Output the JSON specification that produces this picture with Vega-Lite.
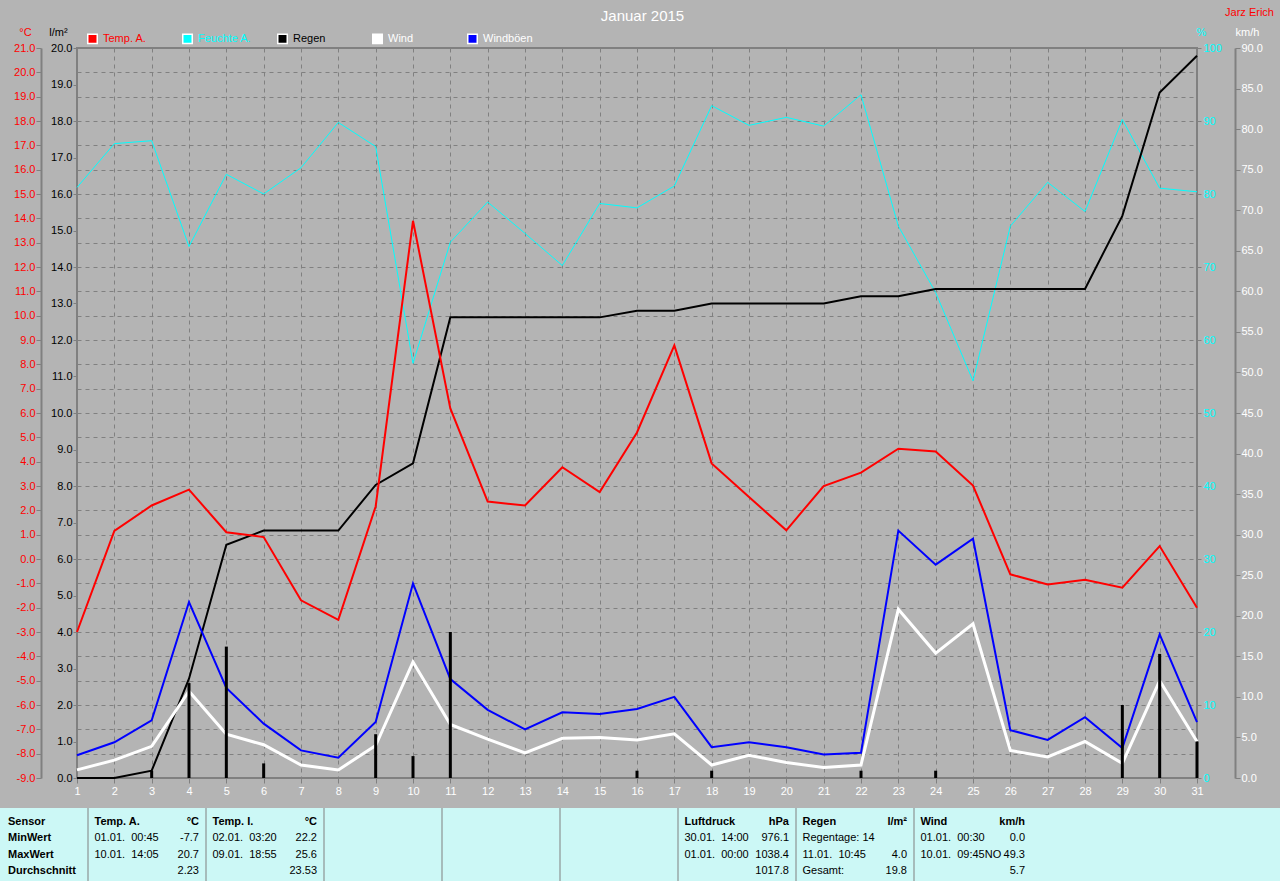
{
  "$schema": "https://vega.github.io/schema/vega-lite/v6.json",
  "width": 1120,
  "height": 730,
  "autosize": {"type": "none"},
  "padding": {"left": 77, "top": 48, "right": 83, "bottom": 103},
  "background": "#b4b4b4",
  "config": {
    "font": "Liberation Sans",
    "view": {"stroke": "#808080", "strokeWidth": 2},
    "axis": {"labelFont": "Liberation Sans", "titleFont": "Liberation Sans", "labelFontSize": 11, "titleFontSize": 11, "titleFontWeight": "normal", "labelOverlap": false, "labelFlush": false},
    "text": {"font": "Liberation Sans", "fontSize": 11}
  },
  "datasets": {
    "days": [
      {"day": 1, "temp": -3.0, "humid": 80.9, "rcum": 0.0, "rain": 0.0, "wind": 1.0, "gust": 2.8},
      {"day": 2, "temp": 1.15, "humid": 86.9, "rcum": 0.0, "rain": 0.0, "wind": 2.2, "gust": 4.4},
      {"day": 3, "temp": 2.2, "humid": 87.3, "rcum": 0.2, "rain": 0.2, "wind": 3.9, "gust": 7.1},
      {"day": 4, "temp": 2.85, "humid": 72.8, "rcum": 2.72, "rain": 2.6, "wind": 10.7, "gust": 21.7},
      {"day": 5, "temp": 1.1, "humid": 82.7, "rcum": 6.39, "rain": 3.6, "wind": 5.4, "gust": 11.1},
      {"day": 6, "temp": 0.9, "humid": 80.0, "rcum": 6.78, "rain": 0.4, "wind": 4.1, "gust": 6.7},
      {"day": 7, "temp": -1.7, "humid": 83.6, "rcum": 6.78, "rain": 0.0, "wind": 1.6, "gust": 3.4},
      {"day": 8, "temp": -2.5, "humid": 89.8, "rcum": 6.78, "rain": 0.0, "wind": 1.0, "gust": 2.5},
      {"day": 9, "temp": 2.16, "humid": 86.5, "rcum": 8.03, "rain": 1.2, "wind": 4.0, "gust": 6.9},
      {"day": 10, "temp": 13.9, "humid": 56.8, "rcum": 8.62, "rain": 0.6, "wind": 14.3, "gust": 24.0},
      {"day": 11, "temp": 6.19, "humid": 73.4, "rcum": 12.62, "rain": 4.0, "wind": 6.6, "gust": 12.2},
      {"day": 12, "temp": 2.36, "humid": 78.9, "rcum": 12.62, "rain": 0.0, "wind": 4.8, "gust": 8.4},
      {"day": 13, "temp": 2.2, "humid": 74.6, "rcum": 12.62, "rain": 0.0, "wind": 3.1, "gust": 6.0},
      {"day": 14, "temp": 3.77, "humid": 70.2, "rcum": 12.62, "rain": 0.0, "wind": 4.9, "gust": 8.1},
      {"day": 15, "temp": 2.75, "humid": 78.7, "rcum": 12.62, "rain": 0.0, "wind": 5.0, "gust": 7.9},
      {"day": 16, "temp": 5.2, "humid": 78.1, "rcum": 12.8, "rain": 0.2, "wind": 4.7, "gust": 8.5},
      {"day": 17, "temp": 8.78, "humid": 81.1, "rcum": 12.8, "rain": 0.0, "wind": 5.45, "gust": 10.0},
      {"day": 18, "temp": 3.93, "humid": 92.1, "rcum": 13.0, "rain": 0.2, "wind": 1.6, "gust": 3.8},
      {"day": 19, "temp": 2.55, "humid": 89.4, "rcum": 13.0, "rain": 0.0, "wind": 2.8, "gust": 4.4},
      {"day": 20, "temp": 1.18, "humid": 90.5, "rcum": 13.0, "rain": 0.0, "wind": 1.9, "gust": 3.8},
      {"day": 21, "temp": 3.0, "humid": 89.3, "rcum": 13.0, "rain": 0.0, "wind": 1.3, "gust": 2.9},
      {"day": 22, "temp": 3.55, "humid": 93.6, "rcum": 13.2, "rain": 0.2, "wind": 1.6, "gust": 3.1},
      {"day": 23, "temp": 4.53, "humid": 75.6, "rcum": 13.2, "rain": 0.0, "wind": 20.8, "gust": 30.5},
      {"day": 24, "temp": 4.42, "humid": 66.5, "rcum": 13.4, "rain": 0.2, "wind": 15.4, "gust": 26.3},
      {"day": 25, "temp": 3.02, "humid": 54.4, "rcum": 13.4, "rain": 0.0, "wind": 19.0, "gust": 29.5},
      {"day": 26, "temp": -0.63, "humid": 75.6, "rcum": 13.4, "rain": 0.0, "wind": 3.4, "gust": 5.9},
      {"day": 27, "temp": -1.05, "humid": 81.6, "rcum": 13.4, "rain": 0.0, "wind": 2.6, "gust": 4.7},
      {"day": 28, "temp": -0.85, "humid": 77.6, "rcum": 13.4, "rain": 0.0, "wind": 4.5, "gust": 7.5},
      {"day": 29, "temp": -1.18, "humid": 90.2, "rcum": 15.4, "rain": 2.0, "wind": 1.8, "gust": 3.7},
      {"day": 30, "temp": 0.53, "humid": 80.8, "rcum": 18.78, "rain": 3.4, "wind": 12.0, "gust": 17.7},
      {"day": 31, "temp": -2.0, "humid": 80.3, "rcum": 19.79, "rain": 1.0, "wind": 4.5, "gust": 6.9}
    ],
    "cols": [
      {"col": "Sensor"}, {"col": "Temp. A."}, {"col": "Temp. I."}, {"col": "leer1"}, {"col": "leer2"}, {"col": "leer3"},
      {"col": "Luftdruck"}, {"col": "Regen"}, {"col": "Wind"}, {"col": "leer4"}, {"col": "leer5"}, {"col": "leer6"}
    ],
    "table": [
      {"col": "Sensor", "row": 0, "left": "Sensor", "right": ""},
      {"col": "Sensor", "row": 1, "left": "MinWert", "right": ""},
      {"col": "Sensor", "row": 2, "left": "MaxWert", "right": ""},
      {"col": "Sensor", "row": 3, "left": "Durchschnitt", "right": ""},
      {"col": "Temp. A.", "row": 0, "left": "Temp. A.", "right": "°C"},
      {"col": "Temp. A.", "row": 1, "left": "01.01. \u00a000:45", "right": "-7.7"},
      {"col": "Temp. A.", "row": 2, "left": "10.01. \u00a014:05", "right": "20.7"},
      {"col": "Temp. A.", "row": 3, "left": "", "right": "2.23"},
      {"col": "Temp. I.", "row": 0, "left": "Temp. I.", "right": "°C"},
      {"col": "Temp. I.", "row": 1, "left": "02.01. \u00a003:20", "right": "22.2"},
      {"col": "Temp. I.", "row": 2, "left": "09.01. \u00a018:55", "right": "25.6"},
      {"col": "Temp. I.", "row": 3, "left": "", "right": "23.53"},
      {"col": "Luftdruck", "row": 0, "left": "Luftdruck", "right": "hPa"},
      {"col": "Luftdruck", "row": 1, "left": "30.01. \u00a014:00", "right": "976.1"},
      {"col": "Luftdruck", "row": 2, "left": "01.01. \u00a000:00", "right": "1038.4"},
      {"col": "Luftdruck", "row": 3, "left": "", "right": "1017.8"},
      {"col": "Regen", "row": 0, "left": "Regen", "right": "l/m²"},
      {"col": "Regen", "row": 1, "left": "Regentage: 14", "right": ""},
      {"col": "Regen", "row": 2, "left": "11.01. \u00a010:45", "right": "4.0"},
      {"col": "Regen", "row": 3, "left": "Gesamt:", "right": "19.8"},
      {"col": "Wind", "row": 0, "left": "Wind", "right": "km/h"},
      {"col": "Wind", "row": 1, "left": "01.01. \u00a000:30", "right": "0.0"},
      {"col": "Wind", "row": 2, "left": "10.01. \u00a009:45NO", "right": "49.3"},
      {"col": "Wind", "row": 3, "left": "", "right": "5.7"}
    ]
  },
  "resolve": {"scale": {"x": "independent", "y": "independent"}},
  "layer": [
    {
      "data": {"name": "days"},
      "mark": {"type": "line", "color": "#00ffff", "strokeWidth": 1},
      "encoding": {
        "x": {"field": "day", "type": "quantitative", "scale": {"domain": [1, 31], "nice": false, "zero": false},
          "axis": {"orient": "top", "domain": false, "ticks": false, "labels": false, "grid": false, "title": "Jarz Erich", "titleColor": "#ff0000", "titleFontSize": 11, "titleX": 1172, "titleY": -36, "titleAlign": "center", "titleBaseline": "middle", "titleAngle": 0}},
        "y": {"field": "humid", "type": "quantitative", "scale": {"domain": [0, 100], "nice": false, "zero": false},
          "axis": {"orient": "right", "offset": 0, "values": [0, 10, 20, 30, 40, 50, 60, 70, 80, 90, 100], "format": "d", "labelColor": "#00ffff", "domain": false, "tickColor": "#808080", "tickSize": 4, "labelPadding": 2, "grid": false, "title": "%", "titleColor": "#00ffff", "titleX": 4, "titleY": -16, "titleAngle": 0, "titleAlign": "center", "titleBaseline": "middle"}}
      }
    },
    {
      "data": {"name": "days"},
      "mark": {"type": "line", "color": "#000000", "strokeWidth": 2},
      "encoding": {
        "x": {"field": "day", "type": "quantitative", "scale": {"domain": [1, 31], "nice": false, "zero": false},
          "axis": {"orient": "top", "domain": false, "ticks": false, "labels": false, "grid": false, "title": "Januar 2015", "titleColor": "#ffffff", "titleFontSize": 15, "titleX": 565, "titleY": -33, "titleAlign": "center", "titleBaseline": "middle", "titleAngle": 0}},
        "y": {"field": "rcum", "type": "quantitative", "scale": {"domain": [0, 20], "nice": false, "zero": false},
          "axis": {"orient": "left", "offset": 0, "values": [0, 1, 2, 3, 4, 5, 6, 7, 8, 9, 10, 11, 12, 13, 14, 15, 16, 17, 18, 19, 20], "format": ".1f", "labelColor": "#000000", "domain": false, "tickColor": "#808080", "tickSize": 4, "labelPadding": 1, "grid": false, "title": "l/m²", "titleColor": "#000000", "titleX": -19, "titleY": -16, "titleAngle": 0, "titleAlign": "center", "titleBaseline": "middle"}}
      }
    },
    {
      "data": {"name": "days"},
      "mark": {"type": "line", "color": "#ff0000", "strokeWidth": 2},
      "encoding": {
        "x": {"field": "day", "type": "quantitative", "scale": {"domain": [1, 31], "nice": false, "zero": false},
          "axis": {"orient": "bottom", "values": [1, 2, 3, 4, 5, 6, 7, 8, 9, 10, 11, 12, 13, 14, 15, 16, 17, 18, 19, 20, 21, 22, 23, 24, 25, 26, 27, 28, 29, 30, 31], "format": "d", "labelColor": "#ffffff", "domain": false, "tickColor": "#808080", "tickSize": 5, "labelPadding": 2, "grid": true, "gridColor": "#808080", "gridDash": [4, 4], "gridWidth": 1, "title": null}},
        "y": {"field": "temp", "type": "quantitative", "scale": {"domain": [-9, 21], "nice": false, "zero": false},
          "axis": {"orient": "left", "offset": 36, "values": [-9, -8, -7, -6, -5, -4, -3, -2, -1, 0, 1, 2, 3, 4, 5, 6, 7, 8, 9, 10, 11, 12, 13, 14, 15, 16, 17, 18, 19, 20, 21], "labelExpr": "(datum.value < 0 ? '-' : '') + format(abs(datum.value), '.1f')", "labelColor": "#ff0000", "domain": true, "domainColor": "#808080", "domainWidth": 2, "tickColor": "#808080", "tickSize": 5, "labelPadding": 1, "grid": true, "gridColor": "#808080", "gridDash": [4, 4], "gridWidth": 1, "title": "°C", "titleColor": "#ff0000", "titleX": -16, "titleY": -16, "titleAngle": 0, "titleAlign": "center", "titleBaseline": "middle"}}
      }
    },
    {
      "data": {"name": "days"},
      "mark": {"type": "line", "color": "#ffffff", "strokeWidth": 3},
      "encoding": {
        "x": {"field": "day", "type": "quantitative", "scale": {"domain": [1, 31], "nice": false, "zero": false}, "axis": null},
        "y": {"field": "wind", "type": "quantitative", "scale": {"domain": [0, 90], "nice": false, "zero": false},
          "axis": {"orient": "right", "offset": 38, "values": [0, 5, 10, 15, 20, 25, 30, 35, 40, 45, 50, 55, 60, 65, 70, 75, 80, 85, 90], "format": ".1f", "labelColor": "#ffffff", "domain": true, "domainColor": "#808080", "domainWidth": 2, "tickColor": "#808080", "tickSize": 5, "labelPadding": 1, "grid": false, "title": "km/h", "titleColor": "#ffffff", "titleX": 12, "titleY": -16, "titleAngle": 0, "titleAlign": "center", "titleBaseline": "middle"}}
      }
    },
    {
      "data": {"name": "days"},
      "mark": {"type": "line", "color": "#0000ff", "strokeWidth": 2},
      "encoding": {
        "x": {"field": "day", "type": "quantitative", "scale": {"domain": [1, 31], "nice": false, "zero": false}, "axis": null},
        "y": {"field": "gust", "type": "quantitative", "scale": {"domain": [0, 90], "nice": false, "zero": false}, "axis": null}
      }
    },
    {
      "data": {"name": "days"},
      "transform": [{"filter": "datum.rain > 0"}],
      "mark": {"type": "bar", "size": 3},
      "encoding": {
        "x": {"field": "day", "type": "quantitative", "scale": {"domain": [1, 31], "nice": false, "zero": false, "padding": 0}, "axis": null},
        "y": {"field": "rain", "type": "quantitative", "scale": {"domain": [0, 20], "nice": false, "zero": true}, "axis": null},
        "color": {"datum": "Regen", "type": "nominal",
          "scale": {"domain": ["Temp. A.", "Feuchte A.", "Regen", "Wind", "Windböen"], "range": ["#ff0000", "#00ffff", "#000000", "#ffffff", "#0000ff"]},
          "legend": {"orient": "none", "legendX": 10, "legendY": -15, "direction": "horizontal", "columns": 5, "title": null, "padding": 0,
            "symbolType": "square", "symbolSize": 90, "symbolStrokeColor": "#ffffff", "symbolStrokeWidth": 1.5, "symbolOpacity": 1,
            "labelFont": "Liberation Sans", "labelFontSize": 11, "labelOffset": 5, "columnPadding": 22, "gridAlign": "all",
            "encode": {
              "labels": {"update": {"fill": {"signal": "datum.label === 'Temp. A.' ? '#ff0000' : datum.label === 'Feuchte A.' ? '#00ffff' : datum.label === 'Regen' ? '#000000' : '#ffffff'"}}},
              "symbols": {"update": {"fill": {"scale": "color", "field": "value"}, "stroke": {"value": "#ffffff"}, "strokeWidth": {"value": 1.5}}}
            }}}
      }
    },
    {
      "data": {"name": "cols"},
      "mark": {"type": "rect", "color": "#ccf8f6"},
      "encoding": {
        "x": {"field": "col", "type": "nominal", "sort": null, "scale": {"type": "band", "domain": ["Sensor", "Temp. A.", "Temp. I.", "leer1", "leer2", "leer3", "Luftdruck", "Regen", "Wind", "leer4", "leer5", "leer6"], "range": [-107, 1309], "paddingInner": 0, "paddingOuter": 0}, "axis": null},
        "y": {"datum": -0.85, "type": "quantitative", "scale": {"domain": [-0.85, 3.58], "range": [760, 833], "nice": false, "zero": false}, "axis": null},
        "y2": {"datum": 3.58}
      }
    },
    {
      "data": {"name": "cols"},
      "transform": [{"filter": "indexof(['Temp. A.', 'Temp. I.', 'leer1', 'leer2', 'leer3', 'Luftdruck', 'Regen', 'Wind'], datum.col) >= 0"}],
      "mark": {"type": "rule", "color": "#808080", "strokeWidth": 1},
      "encoding": {
        "x": {"field": "col", "type": "nominal", "sort": null, "bandPosition": 0, "scale": {"type": "band", "domain": ["Sensor", "Temp. A.", "Temp. I.", "leer1", "leer2", "leer3", "Luftdruck", "Regen", "Wind", "leer4", "leer5", "leer6"], "range": [-107, 1309], "paddingInner": 0, "paddingOuter": 0}, "axis": null},
        "y": {"datum": -0.85, "type": "quantitative", "scale": {"domain": [-0.85, 3.58], "range": [760, 833], "nice": false, "zero": false}, "axis": null},
        "y2": {"datum": 3.58}
      }
    },
    {
      "data": {"name": "table"},
      "transform": [{"filter": "datum.col === 'Sensor'"}],
      "mark": {"type": "text", "align": "left", "baseline": "middle", "fontWeight": "bold", "color": "#000000", "dx": 38},
      "encoding": {
        "x": {"field": "col", "type": "nominal", "sort": null, "bandPosition": 0, "scale": {"type": "band", "domain": ["Sensor", "Temp. A.", "Temp. I.", "leer1", "leer2", "leer3", "Luftdruck", "Regen", "Wind", "leer4", "leer5", "leer6"], "range": [-107, 1309], "paddingInner": 0, "paddingOuter": 0}, "axis": null},
        "y": {"field": "row", "type": "quantitative", "scale": {"domain": [-0.85, 3.58], "range": [760, 833], "nice": false, "zero": false}, "axis": null},
        "text": {"field": "left"}
      }
    },
    {
      "data": {"name": "table"},
      "transform": [{"filter": "datum.col !== 'Sensor' && datum.row === 0"}],
      "mark": {"type": "text", "align": "left", "baseline": "middle", "fontWeight": "bold", "color": "#000000", "dx": 6.5},
      "encoding": {
        "x": {"field": "col", "type": "nominal", "sort": null, "bandPosition": 0, "scale": {"type": "band", "domain": ["Sensor", "Temp. A.", "Temp. I.", "leer1", "leer2", "leer3", "Luftdruck", "Regen", "Wind", "leer4", "leer5", "leer6"], "range": [-107, 1309], "paddingInner": 0, "paddingOuter": 0}, "axis": null},
        "y": {"field": "row", "type": "quantitative", "scale": {"domain": [-0.85, 3.58], "range": [760, 833], "nice": false, "zero": false}, "axis": null},
        "text": {"field": "left"}
      }
    },
    {
      "data": {"name": "table"},
      "transform": [{"filter": "datum.col !== 'Sensor' && datum.row > 0"}],
      "mark": {"type": "text", "align": "left", "baseline": "middle", "fontWeight": "normal", "color": "#000000", "dx": 6.5},
      "encoding": {
        "x": {"field": "col", "type": "nominal", "sort": null, "bandPosition": 0, "scale": {"type": "band", "domain": ["Sensor", "Temp. A.", "Temp. I.", "leer1", "leer2", "leer3", "Luftdruck", "Regen", "Wind", "leer4", "leer5", "leer6"], "range": [-107, 1309], "paddingInner": 0, "paddingOuter": 0}, "axis": null},
        "y": {"field": "row", "type": "quantitative", "scale": {"domain": [-0.85, 3.58], "range": [760, 833], "nice": false, "zero": false}, "axis": null},
        "text": {"field": "left"}
      }
    },
    {
      "data": {"name": "table"},
      "transform": [{"filter": "datum.col !== 'Sensor' && datum.row === 0"}],
      "mark": {"type": "text", "align": "right", "baseline": "middle", "fontWeight": "bold", "color": "#000000", "dx": -7},
      "encoding": {
        "x": {"field": "col", "type": "nominal", "sort": null, "bandPosition": 1, "scale": {"type": "band", "domain": ["Sensor", "Temp. A.", "Temp. I.", "leer1", "leer2", "leer3", "Luftdruck", "Regen", "Wind", "leer4", "leer5", "leer6"], "range": [-107, 1309], "paddingInner": 0, "paddingOuter": 0}, "axis": null},
        "y": {"field": "row", "type": "quantitative", "scale": {"domain": [-0.85, 3.58], "range": [760, 833], "nice": false, "zero": false}, "axis": null},
        "text": {"field": "right"}
      }
    },
    {
      "data": {"name": "table"},
      "transform": [{"filter": "datum.col !== 'Sensor' && datum.row > 0"}],
      "mark": {"type": "text", "align": "right", "baseline": "middle", "fontWeight": "normal", "color": "#000000", "dx": -7},
      "encoding": {
        "x": {"field": "col", "type": "nominal", "sort": null, "bandPosition": 1, "scale": {"type": "band", "domain": ["Sensor", "Temp. A.", "Temp. I.", "leer1", "leer2", "leer3", "Luftdruck", "Regen", "Wind", "leer4", "leer5", "leer6"], "range": [-107, 1309], "paddingInner": 0, "paddingOuter": 0}, "axis": null},
        "y": {"field": "row", "type": "quantitative", "scale": {"domain": [-0.85, 3.58], "range": [760, 833], "nice": false, "zero": false}, "axis": null},
        "text": {"field": "right"}
      }
    }
  ]
}
